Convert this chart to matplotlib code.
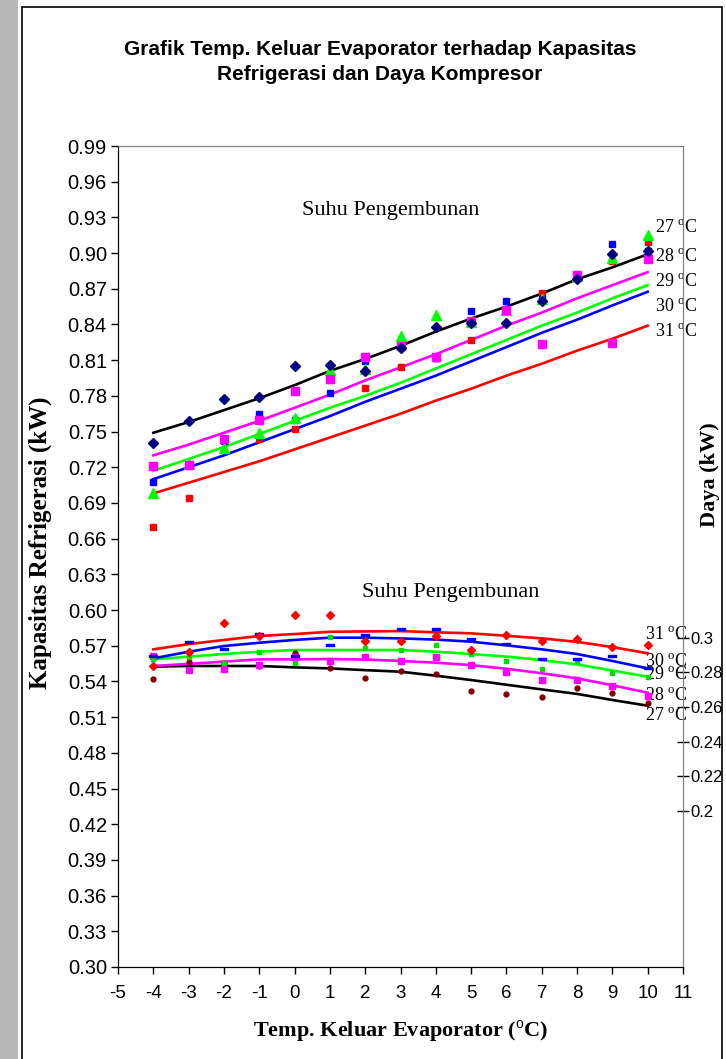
import matplotlib
matplotlib.use("Agg")
import matplotlib.pyplot as plt
from matplotlib.patches import Rectangle
from matplotlib.path import Path

plt.rcParams['mathtext.fontset'] = 'custom'
plt.rcParams['mathtext.rm'] = 'Liberation Serif'
plt.rcParams['mathtext.bf'] = 'Liberation Serif:bold'

# ---------------- data ----------------
temps = [-4, -3, -2, -1, 0, 1, 2, 3, 4, 5, 6, 7, 8, 9, 10]
cond_labels = ['27', '28', '29', '30', '31']

# Kapasitas refrigerasi (kW) - measured points
cap27 = [0.740, 0.759, 0.777, 0.779, 0.805, 0.806, 0.801, 0.820, 0.838, 0.841, 0.841, 0.860, 0.878, 0.8995, 0.902]
cap28 = [0.721, 0.722, 0.7435, 0.7595, 0.784, 0.794, 0.8127, 0.822, 0.8127, 0.843, 0.852, 0.8236, 0.8818, 0.8245, 0.8953]
cap29 = [0.698, 0.723, 0.736, 0.749, 0.761, 0.8017, 0.8025, 0.830, 0.848, 0.842, 0.852, 0.861, 0.881, 0.896, 0.9155]
cap30 = [0.708, 0.722, 0.742, 0.765, 0.7595, 0.782, 0.809, 0.8245, 0.812, 0.851, 0.860, 0.8616, 0.880, 0.908, 0.902]
cap31 = [0.670, 0.694, 0.743, 0.744, 0.752, 0.793, 0.787, 0.804, 0.812, 0.827, 0.851, 0.8667, 0.880, 0.8936, 0.9096]

# Kapasitas refrigerasi (kW) - trend lines
capfit27 = [0.749, 0.758, 0.768, 0.778, 0.789, 0.801, 0.811, 0.822, 0.834, 0.845, 0.855, 0.866, 0.878, 0.888, 0.899]
capfit28 = [0.730, 0.739, 0.749, 0.759, 0.770, 0.781, 0.793, 0.804, 0.815, 0.827, 0.839, 0.850, 0.862, 0.873, 0.884]
capfit29 = [0.717, 0.727, 0.737, 0.748, 0.759, 0.770, 0.780, 0.791, 0.803, 0.815, 0.827, 0.839, 0.850, 0.862, 0.873]
capfit30 = [0.710, 0.720, 0.730, 0.741, 0.752, 0.763, 0.775, 0.786, 0.797, 0.809, 0.821, 0.833, 0.844, 0.856, 0.8675]
capfit31 = [0.698, 0.707, 0.716, 0.725, 0.735, 0.745, 0.755, 0.765, 0.776, 0.786, 0.797, 0.807, 0.818, 0.828, 0.839]

# Daya kompresor (kW) - measured points
pow27 = [0.2763, 0.2861, 0.2851, 0.2836, 0.2912, 0.2822, 0.2765, 0.2809, 0.2788, 0.2693, 0.2673, 0.2658, 0.2711, 0.2678, 0.2624]
pow28 = [0.2893, 0.2813, 0.2818, 0.2840, 0.2886, 0.2865, 0.2888, 0.2866, 0.2886, 0.2841, 0.2799, 0.2755, 0.2755, 0.2720, 0.2663]
pow29 = [0.2874, 0.2890, 0.2851, 0.2918, 0.2855, 0.3001, 0.2938, 0.2928, 0.2957, 0.2905, 0.2865, 0.2817, 0.2865, 0.2794, 0.2774]
pow30 = [0.2893, 0.2976, 0.2932, 0.3020, 0.2893, 0.2955, 0.3014, 0.3047, 0.3047, 0.2993, 0.2961, 0.2878, 0.2878, 0.2893, 0.2822]
pow31 = [0.2836, 0.2918, 0.3082, 0.3009, 0.3128, 0.3128, 0.2982, 0.2982, 0.3009, 0.2928, 0.3014, 0.2982, 0.2991, 0.2943, 0.2957]

# Daya kompresor (kW) - trend lines
powfit27 = [0.2832, 0.2836, 0.2836, 0.2836, 0.2828, 0.2822, 0.2812, 0.2803, 0.2780, 0.2755, 0.2728, 0.2701, 0.2675, 0.2640, 0.2607]
powfit28 = [0.2836, 0.2848, 0.2861, 0.2874, 0.2874, 0.2876, 0.2873, 0.2865, 0.2855, 0.2841, 0.2820, 0.2794, 0.2765, 0.2725, 0.2682]
powfit29 = [0.2874, 0.2890, 0.2905, 0.2918, 0.2928, 0.2928, 0.2928, 0.2928, 0.2918, 0.2905, 0.2890, 0.2870, 0.2845, 0.2810, 0.2774]
powfit30 = [0.2880, 0.2918, 0.2951, 0.2970, 0.2986, 0.2999, 0.2999, 0.2995, 0.2988, 0.2976, 0.2955, 0.2932, 0.2905, 0.2865, 0.2822]
powfit31 = [0.2932, 0.2962, 0.2986, 0.3009, 0.3020, 0.3033, 0.3035, 0.3037, 0.3030, 0.3024, 0.3010, 0.2995, 0.2975, 0.2945, 0.2909]

x_ticks = list(range(-5, 12))
y_ticks = [round(0.30 + 0.03 * i, 2) for i in range(24)]
y2_ticks = [0.2, 0.22, 0.24, 0.26, 0.28, 0.3]
y2_ticklabels = ['0.2', '0.22', '0.24', '0.26', '0.28', '0.3']

title = "Grafik Temp. Keluar Evaporator terhadap Kapasitas\nRefrigerasi dan Daya Kompresor"

# ---------------- figure ----------------
W, H = 726, 1059
fig = plt.figure(figsize=(W / 100, H / 100), dpi=100)
fig.patch.set_facecolor('white')

# page edge strip and chart frame
fig.patches.append(Rectangle((0, 0), 18 / W, 1, transform=fig.transFigure,
                             facecolor='#b8b8b8', edgecolor='none', zorder=0))
fig.patches.append(Rectangle((22 / W, -0.05), (722 - 22) / W, 1 - 7 / H + 0.05,
                             transform=fig.transFigure, facecolor='none',
                             edgecolor='black', linewidth=1.2, zorder=1))

ax = fig.add_axes([118 / W, 1 - 967 / H, (683 - 118) / W, (967 - 146) / H])
ax2 = ax.twinx()

sans = 'Liberation Sans'
serif = 'Liberation Serif'

# upper series (capacity)
upper = [
    (cap31, capfit31, '#FF0000', 's', 5.0, '#FF0000'),
    (cap30, capfit30, '#0000FF', 's', 5.0, '#0000FF'),
    (cap29, capfit29, '#00FF00', '^', 6.5, '#00FF00'),
    (cap28, capfit28, '#FF00FF', 's', 5.5, '#FF00FF'),
    (cap27, capfit27, '#000000', 'D', 5.0, '#000080'),
]
for pts, fit, lc, mk, ms, col in upper:
    ax.plot(temps, fit, color=lc, lw=1.9, zorder=3)
for pts, fit, lc, mk, ms, col in upper:
    ax.plot(temps, pts, linestyle='none', marker=mk, markersize=ms,
            markerfacecolor=col, markeredgecolor=col, zorder=4)

# lower series (power) on right axis
dash = Path([(-1, -0.35), (1, -0.35), (1, 0.35), (-1, 0.35), (-1, -0.35)],
            [Path.MOVETO, Path.LINETO, Path.LINETO, Path.LINETO, Path.CLOSEPOLY])
lower = [
    (pow27, powfit27, '#000000', 'o', 3.5, '#800000'),
    (pow28, powfit28, '#FF00FF', 's', 5.0, '#FF00FF'),
    (pow29, powfit29, '#00FF00', 's', 3.0, '#00DD00'),
    (pow30, powfit30, '#0000FF', dash, 6.0, '#0000FF'),
    (pow31, powfit31, '#FF0000', 'D', 3.8, '#FF0000'),
]
for pts, fit, lc, mk, ms, mc in lower:
    ax2.plot(temps, fit, color=lc, lw=1.9, zorder=3)
for pts, fit, lc, mk, ms, mc in lower:
    ax2.plot(temps, pts, linestyle='none', marker=mk, markersize=ms,
             markerfacecolor=mc, markeredgecolor=mc, zorder=4)

# axes limits and ticks
ax.set_xlim(-5, 11)
ax.set_ylim(0.30, 0.99)
ax.set_xticks(x_ticks)
ax.set_xticklabels([str(v) for v in x_ticks], fontfamily=sans, fontsize=13.5)
ax.set_yticks(y_ticks)
ax.set_yticklabels([f"{v:.2f}" for v in y_ticks], fontfamily=sans, fontsize=14.5)
ax.tick_params(axis='y', direction='out', length=5, width=1, pad=3)
ax.tick_params(axis='x', direction='out', length=5, width=1, pad=8)

ax2.set_ylim(0.1101, 0.5833)
ax2.set_yticks(y2_ticks)
ax2.set_yticklabels(y2_ticklabels, fontfamily=sans, fontsize=12)
ax2.tick_params(axis='y', direction='inout', length=8, width=1, pad=1)

for a in (ax, ax2):
    a.spines['top'].set_color('#808080')
    a.spines['right'].set_color('#808080')
    a.spines['left'].set_color('black')
    a.spines['bottom'].set_color('black')
    a.set_facecolor('none')

ax.set_xlabel(r'Temp. Keluar Evaporator ($^{\mathrm{o}}$C)', fontfamily=serif,
              fontweight='bold', fontsize=16, labelpad=12)
ax.set_ylabel('Kapasitas Refrigerasi (kW)', fontfamily=serif,
              fontweight='bold', fontsize=18)
ax.yaxis.set_label_coords((52 - 118) / (683 - 118), (967 - 543) / 821)
ax2.set_ylabel('Daya (kW)', fontfamily=serif, fontweight='bold', fontsize=16,
               rotation=90)
ax2.yaxis.set_label_coords((700 - 118) / (683 - 118), (967 - 475) / 821)

# annotations
ax.text(2.73, 0.936, 'Suhu Pengembunan', fontfamily=serif, fontsize=16,
        ha='center', va='center')
ax.text(4.43, 0.615, 'Suhu Pengembunan', fontfamily=serif, fontsize=16,
        ha='center', va='center')

upper_label_y = [0.921, 0.896, 0.875, 0.8545, 0.8335]
for lab, yy in zip(cond_labels, upper_label_y):
    ax.text(10.2, yy, lab + r' $^{\mathrm{o}}$C', fontfamily=serif, fontsize=13,
            ha='left', va='center')

lower_label_y = [0.5109, 0.5277, 0.5454, 0.5563, 0.5791]
for lab, yy in zip(cond_labels, lower_label_y):
    ax.text(9.93, yy, lab + r' $^{\mathrm{o}}$C', fontfamily=serif, fontsize=13,
            ha='left', va='center')

fig.text(380 / W, 1 - 62 / H, title, fontfamily=sans,
         fontweight='bold', fontsize=15, ha='center', va='center',
         linespacing=1.4)

fig.savefig('out.png', dpi=100)
